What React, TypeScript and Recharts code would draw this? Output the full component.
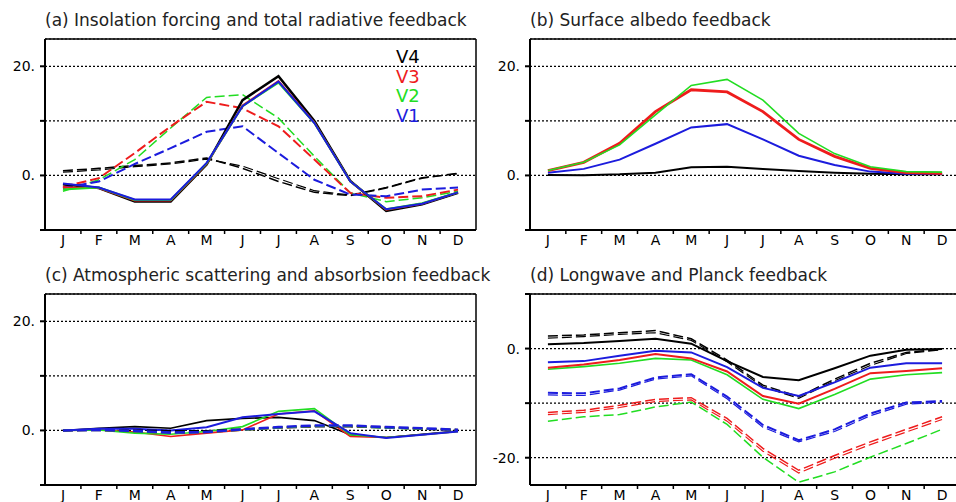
import React from "react";
import { LineChart, Line, XAxis, YAxis, CartesianGrid, Legend } from "recharts";

const MONTHS = ["J", "F", "M", "A", "M", "J", "J", "A", "S", "O", "N", "D"];
const MONTH_TICKS = [0, 0.5, 1, 1.5, 2, 2.5, 3, 3.5, 4, 4.5, 5, 5.5, 6, 6.5, 7, 7.5, 8, 8.5, 9, 9.5, 10, 10.5, 11];
const HALF_TICKS = [0.5, 1.5, 2.5, 3.5, 4.5, 5.5, 6.5, 7.5, 8.5, 9.5, 10.5];

const BLACK = "#000000";
const RED = "#ee1c1c";
const GREEN = "#22dd22";
const BLUE = "#1c1cdd";

const LEGEND_NAMES = ["V4", "V3", "V2", "V1"];
const LEGEND_COLORS = [BLACK, RED, GREEN, BLUE];

// (a) total radiative feedback (solid) and insolation forcing (dashed)
const aTotV4 = [-1.6, -2.3, -4.8, -4.8, 2.0, 13.8, 18.2, 10.0, -1.0, -6.5, -5.3, -3.2];
const aTotV3 = [-2.2, -2.3, -4.6, -4.6, 2.1, 12.8, 17.3, 9.7, -1.1, -6.3, -5.2, -3.1];
const aTotV2 = [-2.6, -2.2, -4.5, -4.5, 2.2, 12.7, 17.0, 9.6, -1.1, -6.2, -5.1, -3.1];
const aTotV1 = [-1.5, -2.2, -4.4, -4.4, 2.3, 12.7, 17.2, 9.6, -1.1, -6.2, -5.2, -3.1];
const aInsV4 = [0.85, 1.3, 1.8, 2.3, 3.2, 1.3, -1.1, -3.1, -3.7, -2.3, -0.5, 0.4];
const aInsV4b = [0.6, 1.0, 1.6, 2.1, 3.0, 1.7, -0.6, -2.8, -3.6, -2.2, -0.4, 0.3];
const aInsV3 = [-2.1, -0.5, 4.1, 9.0, 13.5, 12.3, 9.0, 2.9, -3.2, -4.1, -3.8, -2.6];
const aInsV2 = [-2.9, -0.8, 2.9, 8.7, 14.3, 14.8, 10.5, 3.5, -3.2, -4.8, -4.1, -2.9];
const aInsV1 = [-2.3, -1.1, 2.1, 5.0, 8.0, 9.0, 4.1, -0.8, -3.5, -3.8, -2.6, -2.2];

// (b) surface albedo feedback
const bV4 = [0.1, 0.05, 0.2, 0.5, 1.5, 1.6, 1.2, 0.8, 0.5, 0.3, 0.2, 0.2];
const bV3 = [0.9, 2.4, 5.9, 11.7, 15.7, 15.3, 11.7, 6.6, 3.5, 1.3, 0.5, 0.4];
const bV2 = [0.9, 2.4, 5.6, 11.1, 16.5, 17.6, 13.8, 7.7, 4.0, 1.6, 0.7, 0.6];
const bV1 = [0.5, 1.2, 2.9, 5.8, 8.8, 9.4, 6.6, 3.6, 1.9, 0.7, 0.3, 0.3];

// (c) atmospheric scattering and absorption
const cV4 = [0, 0.4, 0.7, 0.4, 1.8, 2.2, 2.4, 1.8, -0.8, -1.3, -0.7, -0.1];
const cV3 = [0, 0.1, -0.3, -1.1, -0.5, 0.1, 3.0, 3.6, -1.1, -1.3, -0.8, -0.2];
const cV2 = [0, 0.1, -0.5, -0.7, -0.2, 0.7, 3.5, 4.0, -0.8, -1.3, -0.8, -0.2];
const cV1 = [0, 0.3, 0.3, 0, 0.6, 2.4, 3.0, 3.5, -0.5, -1.4, -0.8, -0.2];
const cDV4 = [0, 0.05, 0, -0.1, -0.1, 0.2, 0.5, 0.7, 0.7, 0.5, 0.3, 0.1];
const cDV3 = [0, 0.1, -0.2, -0.5, -0.3, 0.1, 0.5, 0.8, 0.8, 0.6, 0.3, 0.1];
const cDV2 = [0, 0.1, -0.2, -0.5, -0.3, 0.1, 0.5, 0.8, 0.8, 0.5, 0.3, 0.1];
const cDV1 = [0, 0.1, -0.1, -0.4, -0.3, 0.2, 0.6, 0.9, 0.9, 0.6, 0.4, 0.1];

// (d) longwave (solid) and Planck (dashed)
const dV4 = [0.8, 1.0, 1.4, 1.8, 0.9, -2.3, -5.2, -5.8, -3.6, -1.3, -0.2, -0.1];
const dV3 = [-3.5, -2.9, -2.1, -1.0, -1.8, -4.2, -8.7, -10.1, -7.4, -4.5, -4.1, -3.6];
const dV2 = [-3.8, -3.3, -2.7, -1.8, -2.1, -4.8, -9.3, -11.0, -8.4, -5.6, -4.8, -4.4];
const dV1 = [-2.5, -2.3, -1.3, -0.4, -0.7, -3.4, -7.2, -8.7, -6.2, -3.5, -2.7, -2.7];
const dPV4 = [2.3, 2.5, 2.9, 3.3, 1.8, -2.1, -6.7, -8.8, -5.6, -2.7, -0.7, -0.1];
const dPV4b = [1.9, 2.2, 2.6, 2.9, 1.5, -2.4, -7.0, -9.1, -5.9, -3.1, -0.9, -0.2];
const dPV3 = [-11.7, -11.3, -10.4, -9.3, -9.0, -12.8, -18.3, -22.3, -19.6, -17.1, -14.8, -12.5];
const dPV3b = [-12.1, -11.7, -10.8, -9.7, -9.4, -13.3, -18.8, -22.8, -20.1, -17.6, -15.3, -13.0];
const dPV2 = [-13.3, -12.5, -12.1, -10.7, -9.8, -13.9, -19.9, -24.5, -22.6, -19.9, -17.4, -14.8];
const dPV1 = [-8.1, -8.2, -7.3, -5.3, -4.7, -8.8, -14.0, -16.8, -14.8, -11.9, -9.9, -9.6];
const dPV1b = [-8.5, -8.6, -7.6, -5.6, -5.0, -9.2, -14.4, -17.1, -15.2, -12.3, -10.2, -9.8];

interface SeriesDef {
  key: string;
  values: number[];
  color: string;
  dashed?: boolean;
  width?: number;
}

const seriesA: SeriesDef[] = [
  { key: "insV4", values: aInsV4, color: BLACK, dashed: true },
  { key: "insV4b", values: aInsV4b, color: BLACK, dashed: true, width: 1.2 },
  { key: "insV2", values: aInsV2, color: GREEN, dashed: true },
  { key: "insV3", values: aInsV3, color: RED, dashed: true, width: 2 },
  { key: "insV1", values: aInsV1, color: BLUE, dashed: true, width: 2 },
  { key: "totV4", values: aTotV4, color: BLACK, width: 2.5 },
  { key: "totV3", values: aTotV3, color: RED },
  { key: "totV2", values: aTotV2, color: GREEN },
  { key: "totV1", values: aTotV1, color: BLUE },
];

const seriesB: SeriesDef[] = [
  { key: "V4", values: bV4, color: BLACK },
  { key: "V1", values: bV1, color: BLUE },
  { key: "V3", values: bV3, color: RED, width: 2.8 },
  { key: "V2", values: bV2, color: GREEN, width: 1.6 },
];

const seriesC: SeriesDef[] = [
  { key: "V4", values: cV4, color: BLACK, width: 1.6 },
  { key: "V3", values: cV3, color: RED, width: 1.6 },
  { key: "V2", values: cV2, color: GREEN, width: 1.6 },
  { key: "V1", values: cV1, color: BLUE },
  { key: "dV4", values: cDV4, color: BLACK, dashed: true, width: 2 },
  { key: "dV3", values: cDV3, color: RED, dashed: true, width: 2 },
  { key: "dV2", values: cDV2, color: GREEN, dashed: true, width: 2 },
  { key: "dV1", values: cDV1, color: BLUE, dashed: true, width: 2.6 },
];

const seriesD: SeriesDef[] = [
  { key: "pV2", values: dPV2, color: GREEN, dashed: true },
  { key: "pV3", values: dPV3, color: RED, dashed: true },
  { key: "pV3b", values: dPV3b, color: RED, dashed: true, width: 1.2 },
  { key: "pV1", values: dPV1, color: BLUE, dashed: true, width: 2 },
  { key: "pV1b", values: dPV1b, color: BLUE, dashed: true, width: 1.2 },
  { key: "pV4", values: dPV4, color: BLACK, dashed: true },
  { key: "pV4b", values: dPV4b, color: BLACK, dashed: true, width: 1.2 },
  { key: "V2", values: dV2, color: GREEN, width: 1.6 },
  { key: "V3", values: dV3, color: RED },
  { key: "V1", values: dV1, color: BLUE },
  { key: "V4", values: dV4, color: BLACK },
];

const LABELS_TOP: Record<number, string> = { 20: "20.", 0: "0." };
const LABELS_D: Record<number, string> = { 0: "0.", [-20]: "-20." };

const buildRows = (series: SeriesDef[]) =>
  MONTHS.map((m, i) => {
    const row: Record<string, number | string> = { x: i, month: m };
    series.forEach((s) => {
      row[s.key] = s.values[i];
    });
    return row;
  });

const MonthTick = (props: any) => {
  const { x, y, payload } = props;
  const v = payload.value as number;
  if (Number.isInteger(v)) {
    return (
      <text x={x} y={y + 15} textAnchor="middle" fontSize={14} fill="#000">
        {MONTHS[v]}
      </text>
    );
  }
  return <line x1={x} x2={x} y1={y} y2={y + 4} stroke="#000" strokeWidth={1.5} />;
};

const LegendBox = () => (
  <div style={{ fontSize: 18, lineHeight: "19.5px" }}>
    {LEGEND_NAMES.map((n, i) => (
      <div key={n} style={{ color: LEGEND_COLORS[i] }}>
        {n}
      </div>
    ))}
  </div>
);

interface PanelProps {
  left: number;
  top: number;
  width: number;
  plotLeft: number;
  rightBorder: boolean;
  title: string;
  series: SeriesDef[];
  yDomain: [number, number];
  yTicks: number[];
  yLabels: Record<number, string>;
  legend?: boolean;
}

const Panel: React.FC<PanelProps> = ({
  left,
  top,
  width,
  plotLeft,
  rightBorder,
  title,
  series,
  yDomain,
  yTicks,
  yLabels,
  legend,
}) => {
  const data = buildRows(series);
  return (
    <div style={{ position: "absolute", left, top, width, height: 255 }}>
      <LineChart
        width={width}
        height={255}
        data={data}
        margin={{ top: 39, right: 0, bottom: 0, left: 0 }}
      >
        <CartesianGrid
          horizontal
          vertical={false}
          stroke="#000"
          strokeDasharray="2 2"
          strokeWidth={1.2}
        />
        <XAxis
          dataKey="x"
          type="number"
          domain={[-0.5, 11.5]}
          ticks={MONTH_TICKS}
          interval={0}
          allowDataOverflow
          height={25}
          tickSize={0}
          tickMargin={0}
          tickLine={false}
          axisLine={{ stroke: "#000", strokeWidth: 2 }}
          tick={<MonthTick />}
        />
        <XAxis
          xAxisId="top"
          orientation="top"
          mirror
          type="number"
          domain={[-0.5, 11.5]}
          ticks={HALF_TICKS}
          interval={0}
          allowDataOverflow
          tick={false}
          tickSize={4}
          tickLine={{ stroke: "#000", strokeWidth: 1.5 }}
          axisLine={{ stroke: "#000", strokeWidth: 1.5 }}
        />
        <YAxis
          type="number"
          domain={yDomain}
          ticks={yTicks}
          interval={0}
          allowDataOverflow
          width={plotLeft}
          tickSize={5}
          tickMargin={5}
          tickFormatter={(v: number) => yLabels[v] ?? ""}
          tick={{ fill: "#000", fontSize: 14 }}
          tickLine={{ stroke: "#000", strokeWidth: 2 }}
          axisLine={{ stroke: "#000", strokeWidth: 2 }}
        />
        {rightBorder && (
          <YAxis
            yAxisId="r"
            orientation="right"
            type="number"
            domain={yDomain}
            ticks={yTicks}
            interval={0}
            allowDataOverflow
            width={4}
            tickSize={4}
            tick={false}
            tickLine={{ stroke: "#000", strokeWidth: 2 }}
            axisLine={{ stroke: "#000", strokeWidth: 1.5 }}
          />
        )}
        {series.map((s) => (
          <Line
            key={s.key}
            type="linear"
            dataKey={s.key}
            stroke={s.color}
            strokeWidth={s.width ?? (s.dashed ? 1.5 : 2)}
            strokeDasharray={s.dashed ? "10 4" : undefined}
            dot={false}
            activeDot={false}
            isAnimationActive={false}
          />
        ))}
        {legend && (
          <Legend
            layout="vertical"
            align="center"
            verticalAlign="middle"
            wrapperStyle={{ left: 396, top: 47, width: 40 }}
            content={() => <LegendBox />}
          />
        )}
      </LineChart>
      <div
        style={{
          position: "absolute",
          left: plotLeft,
          top: 10,
          fontSize: 17,
          lineHeight: "20px",
          whiteSpace: "nowrap",
          color: "#222",
        }}
      >
        {title}
      </div>
    </div>
  );
};

export default function App() {
  return (
    <div
      style={{
        position: "absolute",
        left: 0,
        top: 0,
        width: 956,
        height: 502,
        overflow: "hidden",
        background: "#fff",
        fontFamily: "'DejaVu Sans', sans-serif",
      }}
    >
      <Panel
        left={0}
        top={0}
        width={480}
        plotLeft={45}
        rightBorder
        title="(a) Insolation forcing and total radiative feedback"
        series={seriesA}
        yDomain={[-10, 25]}
        yTicks={[-10, 0, 10, 20]}
        yLabels={LABELS_TOP}
        legend
      />
      <Panel
        left={476}
        top={0}
        width={484}
        plotLeft={54}
        rightBorder={false}
        title="(b) Surface albedo feedback"
        series={seriesB}
        yDomain={[-10, 25]}
        yTicks={[-10, 0, 10, 20]}
        yLabels={LABELS_TOP}
      />
      <Panel
        left={0}
        top={255}
        width={480}
        plotLeft={45}
        rightBorder
        title="(c) Atmospheric scattering and absorbsion feedback"
        series={seriesC}
        yDomain={[-10, 25]}
        yTicks={[-10, 0, 10, 20]}
        yLabels={LABELS_TOP}
      />
      <Panel
        left={476}
        top={255}
        width={484}
        plotLeft={54}
        rightBorder={false}
        title="(d) Longwave and Planck feedback"
        series={seriesD}
        yDomain={[-25, 10]}
        yTicks={[-20, -10, 0, 10]}
        yLabels={LABELS_D}
      />
    </div>
  );
}
